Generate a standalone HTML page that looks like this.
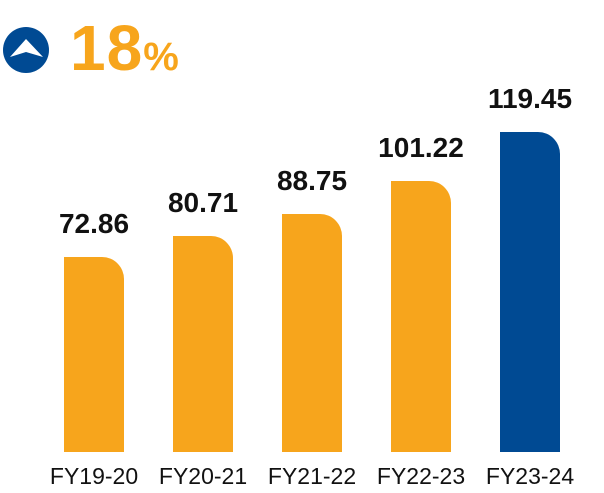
<!DOCTYPE html>
<html><head><style>
body{margin:0;width:604px;height:493px;background:#fff;overflow:hidden;position:relative;font-family:"Liberation Sans",sans-serif}
.bar{position:absolute;width:60px;bottom:41px;border-top-right-radius:22px}
.v{position:absolute;width:140px;text-align:center;font-weight:bold;font-size:28px;color:#111}
.l{position:absolute;width:140px;text-align:center;font-size:23px;color:#111;top:463px}
</style></head><body>
<svg width="60" height="80" style="position:absolute;left:0;top:10px">
<circle cx="26" cy="40" r="23" fill="#004a93"/>
<path d="M10 47 L26 29 L43 47 L26 42 Z" fill="#fff"/>
</svg>
<div style="position:absolute;left:70px;top:14px;color:#f7a51c;font-weight:bold;font-size:64px;line-height:68px;letter-spacing:1px">18<span style="font-size:40px">%</span></div>
<div class="bar" style="left:64px;top:257px;background:#f7a51c"></div>
<div class="bar" style="left:173px;top:236px;background:#f7a51c"></div>
<div class="bar" style="left:282px;top:214px;background:#f7a51c"></div>
<div class="bar" style="left:391px;top:181px;background:#f7a51c"></div>
<div class="bar" style="left:500px;top:132px;background:#004a93"></div>
<div class="v" style="left:24px;top:208px">72.86</div>
<div class="v" style="left:133px;top:187px">80.71</div>
<div class="v" style="left:242px;top:165px">88.75</div>
<div class="v" style="left:351px;top:132px">101.22</div>
<div class="v" style="left:460px;top:83px">119.45</div>
<div class="l" style="left:24px">FY19-20</div>
<div class="l" style="left:133px">FY20-21</div>
<div class="l" style="left:242px">FY21-22</div>
<div class="l" style="left:351px">FY22-23</div>
<div class="l" style="left:460px">FY23-24</div>
</body></html>
